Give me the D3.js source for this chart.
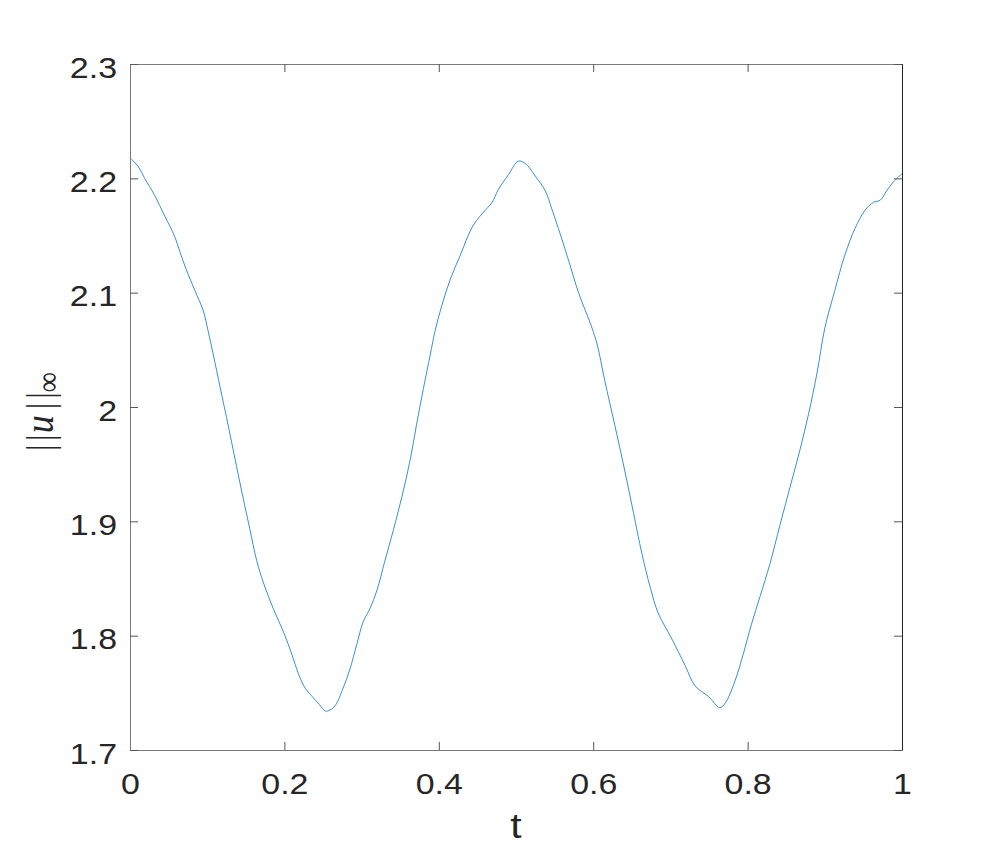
<!DOCTYPE html>
<html>
<head>
<meta charset="utf-8">
<script src="https://cdn.jsdelivr.net/npm/d3@7"></script>
<style>
  html, body { margin: 0; padding: 0; background: #fff; }
  svg { display: block; }
</style>
</head>
<body>
<svg id="chart" width="997" height="847"></svg>
<script>
// ---- data ----
const tValues = [0, .011, .019, .032, .045, .058, .065, .073, .084, .095, .101, .110, .119, .125, .132, .138, .147, .155, .164, .173, .186, .199, .210, .218, .227, .237, .245, .253, .259, .266, .276, .285, .294, .302, .311, .320, .330, .341, .352, .363, .371, .380, .389, .395, .404, .415, .428, .443, .456, .469, .477, .490, .503, .512, .525, .538, .546, .555, .564, .570, .581, .598, .605, .615, .628, .641, .652, .663, .674, .684, .702, .719, .732, .749, .764, .771, .784, .794, .805, .816, .829, .842, .855, .868, .879, .890, .900, .913, .926, .939, .952, .963, .972, .980, .989, 1.0];
const normValues = [2.218, 2.210, 2.200, 2.185, 2.167, 2.149, 2.135, 2.120, 2.102, 2.084, 2.067, 2.039, 2.010, 1.991, 1.968, 1.948, 1.919, 1.894, 1.866, 1.846, 1.823, 1.803, 1.783, 1.767, 1.754, 1.746, 1.740, 1.734, 1.735, 1.739, 1.754, 1.771, 1.793, 1.812, 1.824, 1.840, 1.865, 1.892, 1.921, 1.954, 1.984, 2.016, 2.046, 2.066, 2.089, 2.112, 2.133, 2.157, 2.169, 2.179, 2.190, 2.203, 2.215, 2.213, 2.202, 2.189, 2.174, 2.156, 2.137, 2.124, 2.100, 2.070, 2.055, 2.023, 1.984, 1.944, 1.908, 1.872, 1.842, 1.820, 1.797, 1.774, 1.756, 1.747, 1.737, 1.741, 1.761, 1.783, 1.810, 1.834, 1.863, 1.897, 1.930, 1.963, 1.994, 2.030, 2.069, 2.102, 2.133, 2.156, 2.172, 2.179, 2.181, 2.189, 2.197, 2.204];
const xTicks = [0, 0.2, 0.4, 0.6, 0.8, 1];
const xTickLabels = ["0", "0.2", "0.4", "0.6", "0.8", "1"];
const yTicks = [1.7, 1.8, 1.9, 2.0, 2.1, 2.2, 2.3];
const yTickLabels = ["1.7", "1.8", "1.9", "2", "2.1", "2.2", "2.3"];

// ---- layout ----
const plotLeft = 130, plotRight = 902, plotTop = 64, plotBottom = 750;
const sx = 1.17; // horizontal text stretch seen in the reference
const svg = d3.select("#chart");
svg.append("rect").attr("width", 997).attr("height", 847).attr("fill", "#fff");

const x = d3.scaleLinear().domain([0, 1]).range([plotLeft, plotRight]);
const y = d3.scaleLinear().domain([1.7, 2.3]).range([plotBottom, plotTop]);

const axisColor = "#262626";
const fontFamily = "'Liberation Sans', Arial, Helvetica, sans-serif";
const tickLen = 8;

// plot line
const data = tValues.map((t, i) => ({ t, v: normValues[i] }));
svg.append("path")
  .datum(data)
  .attr("fill", "none")
  .attr("stroke", "#3a90d2")
  .attr("stroke-width", 1)
  .attr("d", d3.line().x(d => x(d.t)).y(d => y(d.v)).curve(d3.curveCatmullRom.alpha(0.5)));

// axes (box with inward ticks on all sides)
const gBottom = svg.append("g").attr("transform", `translate(0,${plotBottom})`)
  .call(d3.axisBottom(x).tickValues(xTicks).tickSizeInner(-tickLen).tickSizeOuter(0).tickFormat((d, i) => xTickLabels[i]));
const gTop = svg.append("g").attr("transform", `translate(0,${plotTop})`)
  .call(d3.axisTop(x).tickValues(xTicks).tickSizeInner(-tickLen).tickSizeOuter(0).tickFormat(""));
const gLeft = svg.append("g").attr("transform", `translate(${plotLeft},0)`)
  .call(d3.axisLeft(y).tickValues(yTicks).tickSizeInner(-tickLen).tickSizeOuter(0).tickFormat((d, i) => yTickLabels[i]));
const gRight = svg.append("g").attr("transform", `translate(${plotRight},0)`)
  .call(d3.axisRight(y).tickValues(yTicks).tickSizeInner(-tickLen).tickSizeOuter(0).tickFormat(""));

[gBottom, gTop, gLeft, gRight].forEach(g => {
  g.selectAll(".domain").attr("stroke", "#7a7a7a").attr("stroke-width", 1);
  g.selectAll(".tick line").attr("stroke", "#555").attr("stroke-width", 1);
});
gRight.select(".domain").attr("stroke", axisColor);

gBottom.selectAll(".tick text")
  .attr("font-family", fontFamily).attr("font-size", 29).attr("fill", axisColor)
  .attr("dy", null).attr("y", 44).attr("transform", `scale(${sx},1)`);
gLeft.selectAll(".tick text")
  .attr("font-family", fontFamily).attr("font-size", 29).attr("fill", axisColor)
  .attr("x", -13 / sx).attr("dy", "0.45em").attr("transform", `scale(${sx},1)`);

// x label
svg.append("text")
  .attr("transform", `translate(${(plotLeft + plotRight) / 2},838) scale(${sx},1)`)
  .attr("text-anchor", "middle")
  .attr("font-family", fontFamily).attr("font-size", 35).attr("fill", axisColor)
  .text("t");

// y label ||u||_inf
const yl = svg.append("text")
  .attr("transform", `translate(53,451) scale(${sx},1) rotate(-90)`)
  .attr("text-anchor", "start")
  .attr("font-family", "'Liberation Serif', 'DejaVu Serif', serif")
  .attr("font-size", 32).attr("fill", axisColor);
yl.append("tspan").text("|");
yl.append("tspan").attr("dx", 3.5).text("|");
yl.append("tspan").attr("dx", 1.5).attr("font-style", "italic").attr("font-size", 36).text("u");
yl.append("tspan").attr("dx", 6).text("|");
yl.append("tspan").attr("dx", 4).text("|");
yl.append("tspan").attr("font-size", 28).attr("dy", 5).attr("dx", 0).text("∞");
</script>
</body>
</html>
